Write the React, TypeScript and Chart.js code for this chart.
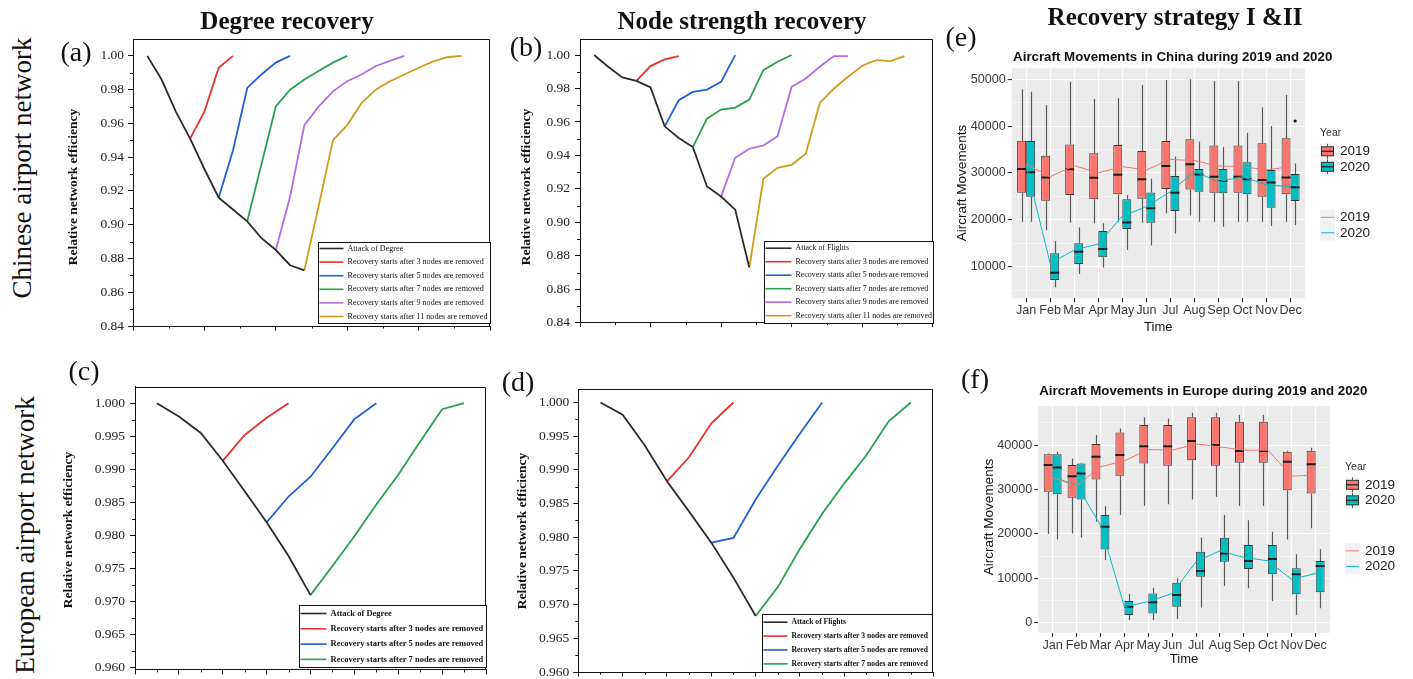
import React, { useEffect, useRef } from "react";
import { Chart, registerables } from "chart.js";
Chart.register(...registerables);

const SERIF = "'Liberation Serif', 'DejaVu Serif', serif";
const SANS = "'Liberation Sans', Arial, sans-serif";

// ---------------- Panels (a)-(d): network efficiency ----------------
const BLACK = "#2b2b2b";
const RED = "#e8322c";
const BLUE = "#1f5fdc";
const GREEN = "#27a052";
const PURPLE = "#b36ae8";
const GOLD = "#d19b1c";

const REC_STARTS_5 = [3, 5, 7, 9, 11];
const REC_STARTS_3 = [3, 5, 7];

// (a) Chinese network, degree recovery
const A_ATTACK = [1.0, 0.986, 0.967, 0.951, 0.933, 0.916, 0.909, 0.902, 0.892, 0.885, 0.876, 0.873];
const A_REC3 = [0.951, 0.967, 0.993, 1.0];
const A_REC5 = [0.916, 0.944, 0.981, 0.989, 0.996, 1.0];
const A_REC7 = [0.902, 0.936, 0.97, 0.98, 0.986, 0.991, 0.996, 1.0];
const A_REC9 = [0.885, 0.9165, 0.959, 0.97, 0.979, 0.985, 0.989, 0.994, 0.997, 1.0];
const A_REC11 = [0.873, 0.911, 0.95, 0.959, 0.972, 0.98, 0.985, 0.989, 0.993, 0.9966, 0.9992, 1.0];

// (b) Chinese network, node strength recovery
const B_ATTACK = [1.0, 0.993, 0.9866, 0.9846, 0.9806, 0.9574, 0.9504, 0.945, 0.9214, 0.9154, 0.9076, 0.873];
const B_REC3 = [0.9846, 0.9934, 0.9974, 0.9994];
const B_REC5 = [0.9574, 0.973, 0.978, 0.9794, 0.984, 1.0];
const B_REC7 = [0.945, 0.962, 0.9674, 0.9686, 0.9734, 0.991, 0.996, 1.0];
const B_REC9 = [0.9154, 0.9386, 0.944, 0.946, 0.9514, 0.981, 0.986, 0.993, 0.9994, 0.9994];
const B_REC11 = [0.873, 0.926, 0.9326, 0.9344, 0.941, 0.9714, 0.98, 0.987, 0.9936, 0.997, 0.9964, 0.9994];

// (c) European network, degree recovery
const C_ATTACK = [1.0, 0.998, 0.9955, 0.9913, 0.9867, 0.982, 0.9769, 0.971];
const C_REC3 = [0.9913, 0.9952, 0.9978, 1.0];
const C_REC5 = [0.982, 0.9859, 0.9889, 0.9932, 0.9976, 1.0];
const C_REC7 = [0.971, 0.9754, 0.9799, 0.9847, 0.9892, 0.9942, 0.9991, 1.0];

// (d) European network, node strength recovery
const D_ATTACK = [1.0, 0.9982, 0.9936, 0.9883, 0.9838, 0.9792, 0.974, 0.9683];
const D_REC3 = [0.9883, 0.9919, 0.9969, 1.0];
const D_REC5 = [0.9792, 0.9799, 0.9856, 0.9906, 0.9954, 1.0];
const D_REC7 = [0.9683, 0.9726, 0.9783, 0.9835, 0.988, 0.9922, 0.9972, 1.0];

const AB_X_MAJOR = [-1, 4, 9, 14, 19, 24];
const AB_X_MINOR = [1.5, 6.5, 11.5, 16.5, 21.5];
const AB_Y_MAJOR = [0.84, 0.86, 0.88, 0.9, 0.92, 0.94, 0.96, 0.98, 1.0];
const AB_Y_MINOR = [0.85, 0.87, 0.89, 0.91, 0.93, 0.95, 0.97, 0.99];
const CD_X_MAJOR = [-1, 1, 3, 5, 7, 9, 11, 13, 15];
const CD_X_MINOR = [0, 2, 4, 6, 8, 10, 12, 14];
const CD_Y_MAJOR = [0.96, 0.965, 0.97, 0.975, 0.98, 0.985, 0.99, 0.995, 1.0];
const CD_Y_MINOR = [0.9625, 0.9675, 0.9725, 0.9775, 0.9825, 0.9875, 0.9925, 0.9975];

const REC_LABELS_5 = [
  "Recovery starts after 3 nodes are removed",
  "Recovery starts after 5 nodes are removed",
  "Recovery starts after 7 nodes are removed",
  "Recovery starts after 9 nodes are removed",
  "Recovery starts after 11 nodes are removed",
];
const REC_COLORS = [RED, BLUE, GREEN, PURPLE, GOLD];

// ---------------- Panels (e)-(f): aircraft movements ----------------
const MONTHS = ["Jan", "Feb", "Mar", "Apr", "May", "Jun", "Jul", "Aug", "Sep", "Oct", "Nov", "Dec"];
const YEARS = ["2019", "2020"];
const C19 = "#F8766D";
const C20 = "#00BFC4";

const E19_LOW = [19600, 17800, 19400, 19250, 19600, 19400, 21400, 20900, 19600, 19600, 19600, 19600];
const E19_Q1 = [25800, 24100, 25300, 24400, 25450, 24500, 26600, 26500, 25800, 25800, 24950, 25450];
const E19_MED = [30850, 29050, 30800, 29000, 29650, 28650, 31500, 31850, 29200, 29200, 28500, 29050];
const E19_Q3 = [36900, 33700, 36100, 34200, 36000, 34700, 36850, 37200, 35850, 35850, 36350, 37400];
const E19_HIGH = [47900, 44500, 49500, 45800, 45950, 48800, 49850, 50000, 49650, 49650, 44000, 46650];
const E20_LOW = [19600, 5600, 8450, 9800, 13550, 14500, 17100, 19600, 18550, 19600, 18700, 18900];
const E20_Q1 = [24950, 7150, 10550, 12000, 18050, 19400, 21900, 26000, 25650, 25450, 22600, 24000];
const E20_MED = [30150, 8700, 13200, 13750, 19450, 22450, 25800, 29700, 28300, 28650, 27950, 26950];
const E20_Q3 = [36850, 12850, 15000, 17600, 24400, 25850, 29350, 30850, 30850, 32300, 30650, 29800];
const E20_HIGH = [47350, 15500, 18350, 19250, 25300, 28850, 33500, 36700, 35600, 38600, 40050, 32050];
const E20_OUTLIERS = [[11, 41100]];
const E19_LINE = [31900, 29200, 31550, 30050, 31350, 30650, 32900, 32650, 31500, 31350, 30650, 31350];
const E20_LINE = [31600, 10700, 13550, 14850, 20800, 22800, 26000, 30300, 28150, 29200, 27450, 27100];
const E_Y_MAJOR = [10000, 20000, 30000, 40000, 50000];
const E_Y_MINOR = [5000, 15000, 25000, 35000, 45000];

const F19_LOW = [19950, 20100, 22750, 24250, 26350, 26700, 27750, 28350, 26350, 26350, 18750, 21250];
const F19_Q1 = [29500, 28150, 32250, 33100, 35850, 35350, 36600, 35350, 36000, 36000, 29850, 29100];
const F19_MED = [35500, 33000, 37350, 37750, 39750, 39750, 40900, 40000, 38650, 38650, 36250, 35700];
const F19_Q3 = [37950, 35500, 40250, 42850, 44500, 44500, 46250, 46250, 45250, 45250, 38500, 38700];
const F19_HIGH = [38100, 37000, 42250, 43750, 46250, 46000, 47300, 47300, 46750, 46750, 38700, 39400];
const F20_LOW = [18750, 19200, 14100, 600, 600, 850, 3450, 8350, 7750, 4900, 1750, 3250];
const F20_Q1 = [28900, 27750, 16500, 1750, 2100, 3600, 10350, 13750, 12100, 10900, 6400, 6850];
const F20_MED = [34950, 33600, 21600, 3600, 4600, 6250, 11650, 15600, 13900, 14350, 10900, 12750];
const F20_Q3 = [37950, 35850, 24250, 4900, 6600, 9000, 16000, 19150, 17500, 17500, 12250, 13900];
const F20_HIGH = [38500, 36000, 26250, 6450, 7900, 10000, 19200, 24250, 23100, 20500, 15400, 16600];
const F20_OUTLIERS: number[][] = [];
const F19_LINE = [32700, 30800, 35100, 36450, 39000, 38850, 40250, 39600, 38850, 38850, 33000, 33250];
const F20_LINE = [32850, 31000, 22000, 3600, 4750, 6600, 13750, 16200, 14700, 13950, 9750, 11100];
const F_Y_MAJOR = [0, 10000, 20000, 30000, 40000];
const F_Y_MINOR = [5000, 15000, 25000, 35000, 45000];

// ---------------- helpers ----------------
type Area = { l: number; t: number; r: number; b: number };
type LineSeries = { label: string; color: string; start: number; values: number[] };
type LegendCfg = { w: number; h: number; dr: number; db: number; first: number; rowH: number; sample: number; font: string };

type LinePanelProps = {
  left: number; top: number; width: number; height: number; area: Area;
  xMin: number; xMax: number; yMin: number; yMax: number;
  xMajor: number[]; xMinor: number[]; yMajor: number[]; yMinor: number[];
  decimals: number; tickPad: number; series: LineSeries[]; legend: LegendCfg;
};

function LinePanel(p: LinePanelProps) {
  const ref = useRef<HTMLCanvasElement>(null);
  useEffect(() => {
    const decor = {
      id: "lineDecor",
      afterDraw(chart: any) {
        const { ctx, chartArea: a } = chart;
        const xs = chart.scales.x;
        const ys = chart.scales.y;
        ctx.save();
        ctx.strokeStyle = "#111";
        ctx.lineWidth = 1;
        ctx.beginPath();
        const top = Math.round(a.top) + 0.5;
        const right = Math.round(a.right) - 0.5;
        ctx.moveTo(a.left, top);
        ctx.lineTo(right, top);
        ctx.lineTo(right, a.bottom);
        for (const v of p.xMinor) {
          const px = Math.round(xs.getPixelForValue(v)) + 0.5;
          ctx.moveTo(px, a.bottom);
          ctx.lineTo(px, a.bottom + 2.5);
        }
        for (const v of p.yMinor) {
          const py = Math.round(ys.getPixelForValue(v)) + 0.5;
          ctx.moveTo(a.left, py);
          ctx.lineTo(a.left - 3, py);
        }
        ctx.stroke();
        // legend box
        const L = p.legend;
        const bx = Math.round(a.right - L.dr - L.w) + 0.5;
        const by = Math.round(a.bottom - L.db - L.h) + 0.5;
        ctx.fillStyle = "#fff";
        ctx.fillRect(bx, by, L.w, L.h);
        ctx.strokeStyle = "#111";
        ctx.lineWidth = 1;
        ctx.strokeRect(bx, by, L.w, L.h);
        chart.data.datasets.forEach((ds: any, i: number) => {
          const y = by + L.first + i * L.rowH;
          ctx.strokeStyle = ds.borderColor;
          ctx.lineWidth = 1.6;
          ctx.beginPath();
          ctx.moveTo(bx + 1, y);
          ctx.lineTo(bx + L.sample, y);
          ctx.stroke();
          ctx.fillStyle = "#111";
          ctx.font = L.font;
          ctx.textBaseline = "middle";
          ctx.textAlign = "left";
          ctx.fillText(ds.label, bx + L.sample + 4, y);
        });
        ctx.restore();
      },
    };
    const chart = new Chart(ref.current as HTMLCanvasElement, {
      type: "line",
      data: {
        datasets: p.series.map((s) => ({
          label: s.label,
          data: s.values.map((v, i) => ({ x: s.start + i, y: v })),
          borderColor: s.color,
          backgroundColor: s.color,
          borderWidth: 1.8,
          pointRadius: 0,
          tension: 0,
          fill: false,
        })),
      },
      options: {
        animation: false,
        responsive: false,
        maintainAspectRatio: false,
        devicePixelRatio: 1,
        layout: { padding: { top: p.area.t, right: p.area.r, left: 0, bottom: 0 } },
        plugins: { legend: { display: false }, tooltip: { enabled: false } },
        scales: {
          x: {
            type: "linear",
            min: p.xMin,
            max: p.xMax,
            afterBuildTicks: (ax: any) => { ax.ticks = p.xMajor.map((v) => ({ value: v })); },
            afterFit: (ax: any) => { ax.height = p.area.b; },
            ticks: { display: false },
            grid: { drawOnChartArea: false, drawTicks: true, tickLength: 4.5, color: "#111", lineWidth: 1 },
            border: { display: true, color: "#111", width: 1 },
          },
          y: {
            type: "linear",
            min: p.yMin,
            max: p.yMax,
            afterBuildTicks: (ax: any) => { ax.ticks = p.yMajor.map((v) => ({ value: v })); },
            afterFit: (ax: any) => { ax.width = p.area.l; },
            ticks: {
              autoSkip: false,
              padding: p.tickPad,
              color: "#222",
              font: { family: SERIF, size: 13.5 },
              callback: (v: any) => Number(v).toFixed(p.decimals),
            },
            grid: { drawOnChartArea: false, drawTicks: true, tickLength: 5, color: "#111", lineWidth: 1 },
            border: { display: true, color: "#111", width: 1 },
          },
        },
      } as any,
      plugins: [decor],
    });
    return () => chart.destroy();
  }, []);
  return (
    <canvas
      ref={ref}
      width={p.width}
      height={p.height}
      style={{ position: "absolute", left: p.left, top: p.top, width: p.width, height: p.height }}
    />
  );
}

type BoxStats = { low: number[]; q1: number[]; med: number[]; q3: number[]; high: number[]; out: number[][] };
type GGProps = {
  left: number; top: number; width: number; height: number; area: Area;
  yMin: number; yMax: number; yMajor: number[]; yMinor: number[];
  s19: BoxStats; s20: BoxStats; line19: number[]; line20: number[]; legendDy: number;
};

function GGPanel(p: GGProps) {
  const ref = useRef<HTMLCanvasElement>(null);
  useEffect(() => {
    const stats = [p.s19, p.s20];
    const isMajor = (v: number) => p.yMajor.indexOf(v) >= 0;
    const yTicks = [...p.yMajor, ...p.yMinor].sort((a, b) => a - b);
    const gg = {
      id: "ggbox",
      beforeDraw(chart: any) {
        const { ctx, chartArea: a } = chart;
        ctx.save();
        ctx.fillStyle = "#EBEBEB";
        ctx.fillRect(a.left, a.top, a.right - a.left, a.bottom - a.top);
        ctx.restore();
      },
      beforeDatasetDraw(chart: any, args: any) {
        const st = stats[args.index];
        if (!st) return;
        const { ctx } = chart;
        const ys = chart.scales.y;
        ctx.save();
        ctx.strokeStyle = "#5a5a5a";
        ctx.lineWidth = 1.2;
        ctx.beginPath();
        args.meta.data.forEach((el: any, i: number) => {
          const x = Math.round(el.x) + 0.5;
          ctx.moveTo(x, ys.getPixelForValue(st.high[i]));
          ctx.lineTo(x, ys.getPixelForValue(st.q3[i]));
          ctx.moveTo(x, ys.getPixelForValue(st.q1[i]));
          ctx.lineTo(x, ys.getPixelForValue(st.low[i]));
        });
        ctx.stroke();
        ctx.restore();
      },
      afterDatasetDraw(chart: any, args: any) {
        const st = stats[args.index];
        if (!st) return;
        const { ctx } = chart;
        const ys = chart.scales.y;
        ctx.save();
        ctx.strokeStyle = "#1e1e1e";
        ctx.lineWidth = 2;
        ctx.beginPath();
        args.meta.data.forEach((el: any, i: number) => {
          const y = ys.getPixelForValue(st.med[i]);
          ctx.moveTo(el.x - el.width / 2, y);
          ctx.lineTo(el.x + el.width / 2, y);
        });
        ctx.stroke();
        ctx.fillStyle = "#111";
        st.out.forEach(([mi, v]) => {
          const el = args.meta.data[mi];
          ctx.beginPath();
          ctx.arc(el.x, ys.getPixelForValue(v), 1.6, 0, Math.PI * 2);
          ctx.fill();
        });
        ctx.restore();
      },
      afterDraw(chart: any) {
        const { ctx, chartArea: a } = chart;
        const cx = Math.round(a.right + 15);
        const cy = (a.top + a.bottom) / 2 + p.legendDy;
        ctx.save();
        ctx.textBaseline = "middle";
        ctx.textAlign = "left";
        ctx.fillStyle = "#333";
        ctx.font = `10.5px ${SANS}`;
        ctx.fillText("Year", cx, cy - 50);
        const cols = [C19, C20];
        const keyW = 15;
        const keyH = 15.5;
        [cy - 32, cy - 16.5].forEach((y, k) => {
          ctx.fillStyle = "#F2F2F2";
          ctx.fillRect(cx, y - keyH / 2, keyW, keyH);
          ctx.strokeStyle = "#5a5a5a";
          ctx.lineWidth = 1;
          ctx.beginPath();
          ctx.moveTo(cx + 7.5, y - 7.5);
          ctx.lineTo(cx + 7.5, y + 7.5);
          ctx.stroke();
          ctx.fillStyle = cols[k];
          ctx.fillRect(cx + 1.5, y - 4.5, 12, 9);
          ctx.strokeStyle = "#333";
          ctx.strokeRect(cx + 1.5, y - 4.5, 12, 9);
          ctx.lineWidth = 1.5;
          ctx.beginPath();
          ctx.moveTo(cx + 1.5, y);
          ctx.lineTo(cx + 13.5, y);
          ctx.stroke();
          ctx.fillStyle = "#222";
          ctx.font = `13.5px ${SANS}`;
          ctx.fillText(YEARS[k], cx + 20, y);
        });
        [cy + 34, cy + 49.5].forEach((y, k) => {
          ctx.fillStyle = "#F2F2F2";
          ctx.fillRect(cx, y - keyH / 2, keyW, keyH);
          ctx.strokeStyle = cols[k];
          ctx.lineWidth = 1;
          ctx.beginPath();
          ctx.moveTo(cx + 1, y);
          ctx.lineTo(cx + keyW - 1, y);
          ctx.stroke();
          ctx.fillStyle = "#222";
          ctx.font = `13.5px ${SANS}`;
          ctx.fillText(YEARS[k], cx + 20, y);
        });
        ctx.restore();
      },
    };
    const boxDs = (st: BoxStats, col: string, label: string) => ({
      type: "bar",
      label,
      data: MONTHS.map((_, i) => ({ x: i, y: [st.q1[i], st.q3[i]] })),
      backgroundColor: col,
      borderColor: "#3a3a3a",
      borderWidth: 1,
      borderSkipped: false,
      categoryPercentage: 0.75,
      barPercentage: 1,
      order: 1,
    });
    const lineDs = (vals: number[], col: string, label: string) => ({
      type: "line",
      label,
      data: vals.map((v, i) => ({ x: i, y: v })),
      borderColor: col,
      backgroundColor: col,
      borderWidth: 1,
      pointRadius: 0,
      tension: 0,
      order: 0,
    });
    const tickFont = { family: SANS, size: 12.6 };
    const chart = new Chart(ref.current as HTMLCanvasElement, {
      type: "bar",
      data: {
        datasets: [
          boxDs(p.s19, C19, YEARS[0]),
          boxDs(p.s20, C20, YEARS[1]),
          lineDs(p.line19, C19, YEARS[0]),
          lineDs(p.line20, C20, YEARS[1]),
        ],
      } as any,
      options: {
        animation: false,
        responsive: false,
        maintainAspectRatio: false,
        devicePixelRatio: 1,
        layout: { padding: { top: p.area.t, right: p.area.r, left: 0, bottom: 0 } },
        plugins: { legend: { display: false }, tooltip: { enabled: false } },
        scales: {
          x: {
            type: "linear",
            min: -0.6,
            max: 11.6,
            offset: false,
            afterBuildTicks: (ax: any) => { ax.ticks = MONTHS.map((_, i) => ({ value: i })); },
            afterFit: (ax: any) => { ax.height = p.area.b; },
            ticks: {
              autoSkip: false,
              maxRotation: 0,
              minRotation: 0,
              padding: 1,
              color: "#3a3a3a",
              font: tickFont,
              callback: (v: any) => MONTHS[v] ?? "",
            },
            grid: { color: "#ffffff", lineWidth: 1.1, tickLength: 4, tickColor: "#333", offset: false },
            border: { display: false },
          },
          y: {
            type: "linear",
            min: p.yMin,
            max: p.yMax,
            afterBuildTicks: (ax: any) => { ax.ticks = yTicks.map((v) => ({ value: v })); },
            afterFit: (ax: any) => { ax.width = p.area.l; },
            ticks: {
              autoSkip: false,
              padding: 2,
              color: "#3a3a3a",
              font: tickFont,
              callback: (v: any) => (isMajor(v) ? String(v) : ""),
            },
            grid: {
              color: "#ffffff",
              lineWidth: (c: any) => (c.tick && isMajor(c.tick.value) ? 1.1 : 0.55),
              tickLength: 4,
              tickColor: (c: any) => (c.tick && isMajor(c.tick.value) ? "#333" : "rgba(0,0,0,0)"),
            },
            border: { display: false },
          },
        },
      } as any,
      plugins: [gg],
    });
    return () => chart.destroy();
  }, []);
  return (
    <canvas
      ref={ref}
      width={p.width}
      height={p.height}
      style={{ position: "absolute", left: p.left, top: p.top, width: p.width, height: p.height }}
    />
  );
}

function Label(props: { x: number; y: number; text: string; size: number; bold?: boolean; rotate?: boolean; family?: string; color?: string }) {
  const { x, y, text, size, bold, rotate, family, color } = props;
  return (
    <div
      style={{
        position: "absolute",
        left: x,
        top: y,
        transform: `translate(-50%, -50%)${rotate ? " rotate(-90deg)" : ""}`,
        fontSize: size,
        fontWeight: bold ? 700 : 400,
        fontFamily: family ?? SERIF,
        color: color ?? "#111",
        whiteSpace: "nowrap",
        lineHeight: 1,
      }}
    >
      {text}
    </div>
  );
}

function recSeries(starts: number[], vals: number[][]): LineSeries[] {
  return vals.map((v, i) => ({ label: REC_LABELS_5[i], color: REC_COLORS[i], start: starts[i], values: v }));
}

export default function App() {
  const seriesA: LineSeries[] = [
    { label: "Attack of Degree", color: BLACK, start: 0, values: A_ATTACK },
    ...recSeries(REC_STARTS_5, [A_REC3, A_REC5, A_REC7, A_REC9, A_REC11]),
  ];
  const seriesB: LineSeries[] = [
    { label: "Attack of Flights", color: BLACK, start: 0, values: B_ATTACK },
    ...recSeries(REC_STARTS_5, [B_REC3, B_REC5, B_REC7, B_REC9, B_REC11]),
  ];
  const seriesC: LineSeries[] = [
    { label: "Attack of Degree", color: BLACK, start: 0, values: C_ATTACK },
    ...recSeries(REC_STARTS_3, [C_REC3, C_REC5, C_REC7]),
  ];
  const seriesD: LineSeries[] = [
    { label: "Attack of Flights", color: BLACK, start: 0, values: D_ATTACK },
    ...recSeries(REC_STARTS_3, [D_REC3, D_REC5, D_REC7]),
  ];
  const e19: BoxStats = { low: E19_LOW, q1: E19_Q1, med: E19_MED, q3: E19_Q3, high: E19_HIGH, out: [] };
  const e20: BoxStats = { low: E20_LOW, q1: E20_Q1, med: E20_MED, q3: E20_Q3, high: E20_HIGH, out: E20_OUTLIERS };
  const f19: BoxStats = { low: F19_LOW, q1: F19_Q1, med: F19_MED, q3: F19_Q3, high: F19_HIGH, out: [] };
  const f20: BoxStats = { low: F20_LOW, q1: F20_Q1, med: F20_MED, q3: F20_Q3, high: F20_HIGH, out: F20_OUTLIERS };

  return (
    <div style={{ position: "fixed", left: 0, top: 0, width: 1413, height: 679, background: "#fff", overflow: "hidden" }}>
      <LinePanel
        left={60} top={20} width={440} height={325}
        area={{ l: 73, t: 19, r: 10, b: 19 }}
        xMin={-1} xMax={24} yMin={0.84} yMax={1.01}
        xMajor={AB_X_MAJOR} xMinor={AB_X_MINOR} yMajor={AB_Y_MAJOR} yMinor={AB_Y_MINOR}
        decimals={2} tickPad={4} series={seriesA}
        legend={{ w: 172, h: 81, dr: 0, db: 3, first: 6, rowH: 13.6, sample: 25, font: `8.1px ${SERIF}` }}
      />
      <LinePanel
        left={505} top={20} width={440} height={320}
        area={{ l: 75, t: 19, r: 12.3, b: 17.3 }}
        xMin={-1} xMax={24} yMin={0.84} yMax={1.0096}
        xMajor={AB_X_MAJOR} xMinor={AB_X_MINOR} yMajor={AB_Y_MAJOR} yMinor={AB_Y_MINOR}
        decimals={2} tickPad={5} series={seriesB}
        legend={{ w: 169, h: 82, dr: 0, db: 0, first: 6.7, rowH: 13.5, sample: 27, font: `7.9px ${SERIF}` }}
      />
      <LinePanel
        left={60} top={370} width={436} height={313}
        area={{ l: 75, t: 16.7, r: 10, b: 13 }}
        xMin={-1} xMax={15} yMin={0.9597} yMax={1.0025}
        xMajor={CD_X_MAJOR} xMinor={CD_X_MINOR} yMajor={CD_Y_MAJOR} yMinor={CD_Y_MINOR}
        decimals={3} tickPad={5} series={seriesC}
        legend={{ w: 187, h: 62, dr: 0, db: 3, first: 8, rowH: 15.3, sample: 27, font: `bold 8.5px ${SERIF}` }}
      />
      <LinePanel
        left={505} top={370} width={440} height={315}
        area={{ l: 73.3, t: 19, r: 12, b: 13 }}
        xMin={-1} xMax={15} yMin={0.96} yMax={1.002}
        xMajor={CD_X_MAJOR} xMinor={CD_X_MINOR} yMajor={CD_Y_MAJOR} yMinor={CD_Y_MINOR}
        decimals={3} tickPad={4} series={seriesD}
        legend={{ w: 170, h: 58, dr: 1, db: 0, first: 7.7, rowH: 13.9, sample: 25, font: `bold 7.6px ${SERIF}` }}
      />
      <GGPanel
        left={940} top={40} width={473} height={300}
        area={{ l: 71.7, t: 28.3, r: 108, b: 41.7 }}
        yMin={3250} yMax={52350} yMajor={E_Y_MAJOR} yMinor={E_Y_MINOR}
        s19={e19} s20={e20} line19={E19_LINE} line20={E20_LINE} legendDy={0}
      />
      <GGPanel
        left={940} top={360} width={473} height={319}
        area={{ l: 98.3, t: 46, r: 83, b: 46.3 }}
        yMin={-2250} yMax={48800} yMajor={F_Y_MAJOR} yMinor={F_Y_MINOR}
        s19={f19} s20={f20} line19={F19_LINE} line20={F20_LINE} legendDy={-2.5}
      />

      <Label x={287} y={20} text="Degree recovery" size={25} bold />
      <Label x={742} y={20} text="Node strength recovery" size={25} bold />
      <Label x={1175} y={16} text="Recovery strategy I &II" size={25} bold />
      <Label x={22} y={168} text="Chinese airport network" size={27} rotate />
      <Label x={25} y={535} text="European airport network" size={27} rotate />
      <Label x={76} y={52} text="(a)" size={28} />
      <Label x={526} y={47} text="(b)" size={28} />
      <Label x={84} y={371} text="(c)" size={28} />
      <Label x={518} y={382} text="(d)" size={28} />
      <Label x={961} y={37} text="(e)" size={28} />
      <Label x={975} y={379} text="(f)" size={28} />
      <Label x={73} y={187} text="Relative network efficiency" size={13.5} bold rotate />
      <Label x={526} y={187} text="Relative network efficiency" size={13.5} bold rotate />
      <Label x={68} y={530} text="Relative network efficiency" size={13.5} bold rotate />
      <Label x={522} y={531} text="Relative network efficiency" size={13.5} bold rotate />

      <Label x={1172.7} y={57.3} text="Aircraft Movements in China during 2019 and 2020" size={13.3} bold family={SANS} />
      <Label x={961.7} y={183.3} text="Aircraft Movements" size={13.5} rotate family={SANS} />
      <Label x={1158.3} y={325.7} text="Time" size={13} family={SANS} />
      <Label x={1203.3} y={390.7} text="Aircraft Movements in Europe during 2019 and 2020" size={13.3} bold family={SANS} />
      <Label x={989.3} y={516.7} text="Aircraft Movements" size={13.5} rotate family={SANS} />
      <Label x={1184} y={658.3} text="Time" size={13} family={SANS} />
    </div>
  );
}
